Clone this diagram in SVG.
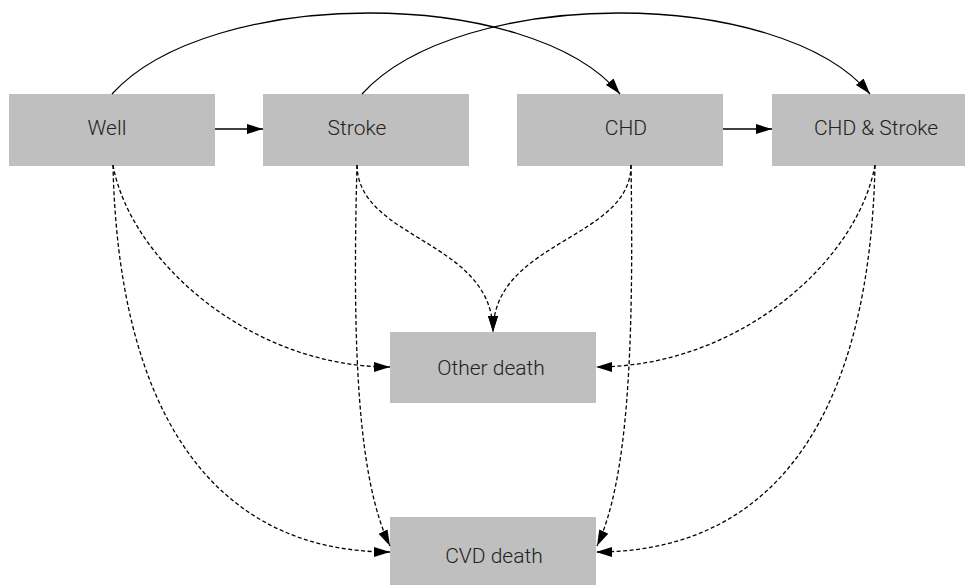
<svg xmlns="http://www.w3.org/2000/svg" width="965" height="585" viewBox="0 0 965 585">
<style>
.box{fill:#bfbfbf}
.lbl{font-family:Roboto,"Liberation Sans",sans-serif;font-weight:300;font-size:21px;fill:#222;text-anchor:middle}
.solid{fill:none;stroke:#000;stroke-width:1.3;marker-end:url(#ah)}
.dash{fill:none;stroke:#000;stroke-width:1.3;stroke-dasharray:4,2.5;marker-end:url(#ah)}
</style>
<defs>
<marker id="ah" markerUnits="userSpaceOnUse" markerWidth="17" markerHeight="11" refX="16" refY="5" orient="auto">
<path d="M0,0 L16,5 L0,10 z" fill="#000"/>
</marker>
</defs>
<rect width="965" height="585" fill="#fff"/>
<g id="well"><rect class="box" x="9" y="94" width="206" height="72"/><text class="lbl" x="107" y="135">Well</text></g>
<g id="stroke"><rect class="box" x="263" y="94" width="206" height="72"/><text class="lbl" x="357" y="135">Stroke</text></g>
<g id="chd"><rect class="box" x="517" y="94" width="206" height="72"/><text class="lbl" x="626" y="135">CHD</text></g>
<g id="chdstroke"><rect class="box" x="772" y="94" width="206" height="72"/><text class="lbl" x="876" y="135">CHD &amp; Stroke</text></g>
<g id="otherdeath"><rect class="box" x="390" y="332" width="206" height="71"/><text class="lbl" x="491" y="375">Other death</text></g>
<g id="cvddeath"><rect class="box" x="390" y="517" width="206" height="72"/><text class="lbl" x="494" y="563">CVD death</text></g>
<g id="connectors">
<path class="solid" d="M215,129 L263,129"/>
<path class="solid" d="M723,129 L772,129"/>
<path class="solid" d="M112,94 C210,-14 530,-14 620,94"/>
<path class="solid" d="M362,94 C460,-14 780,-14 870,94"/>
<path class="dash" d="M113,165 C130,260 250,367 390,367"/>
<path class="dash" d="M113,165 C118,400 205,552 390,552"/>
<path class="dash" d="M357,165 C358,240 493,240 493,332"/>
<path class="dash" d="M357,165 C352,350 358,480 390,546"/>
<path class="dash" d="M631,165 C631,240 493,240 493,332"/>
<path class="dash" d="M631,165 C634,350 628,480 597,546"/>
<path class="dash" d="M875,165 C858,260 740,367 596,367"/>
<path class="dash" d="M875,165 C870,400 785,552 596,552"/>
</g>
</svg>
